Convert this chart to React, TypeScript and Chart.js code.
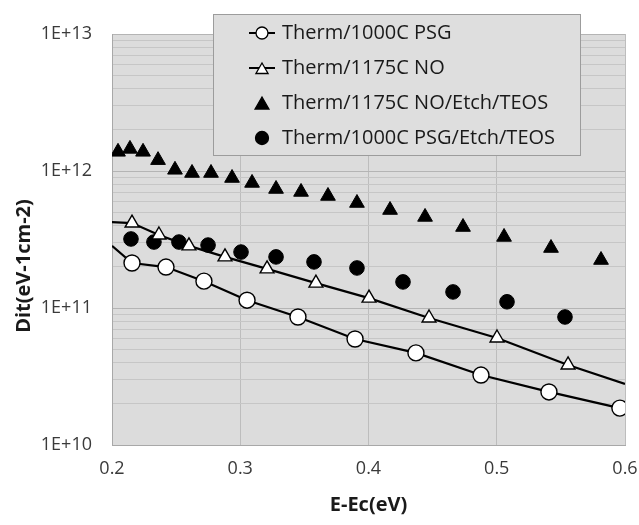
import React, { useEffect, useRef } from 'react';
import { Chart, registerables } from 'chart.js';

Chart.register(...registerables);

// Therm/1000C PSG (open circles + line); first point is the line start at the axis
const psgX = [0.2, 0.2156, 0.2421, 0.2717, 0.3053, 0.345, 0.3895, 0.437, 0.4877, 0.5407, 0.596];
const psgY = [2.84e11, 2.13e11, 1.99e11, 1.57e11, 1.14e11, 8.6e10, 5.94e10, 4.7e10, 3.24e10, 2.44e10, 1.86e10];
const psgMarker = [false, true, true, true, true, true, true, true, true, true, true];

// Therm/1175C NO (open triangles + line); first and last points are line ends at the axes
const noX = [0.2, 0.2156, 0.2366, 0.26, 0.2881, 0.3209, 0.359, 0.4004, 0.4472, 0.5002, 0.5556, 0.6];
const noY = [4.24e11, 4.17e11, 3.41e11, 2.84e11, 2.36e11, 1.93e11, 1.52e11, 1.18e11, 8.45e10, 6.04e10, 3.84e10, 2.79e10];
const noMarker = [false, true, true, true, true, true, true, true, true, true, true, false];

// Therm/1175C NO/Etch/TEOS (filled triangles)
const noEtchX = [0.2047, 0.214, 0.2242, 0.2359, 0.2491, 0.2624, 0.2772, 0.2936, 0.3092, 0.3279, 0.3474, 0.3684, 0.391, 0.4168, 0.4441, 0.4737, 0.5057, 0.5423, 0.5813];
const noEtchY = [1.38e12, 1.45e12, 1.38e12, 1.2e12, 1.02e12, 9.67e11, 9.67e11, 8.89e11, 8.18e11, 7.39e11, 7.03e11, 6.57e11, 5.84e11, 5.19e11, 4.62e11, 3.9e11, 3.3e11, 2.74e11, 2.24e11];

// Therm/1000C PSG/Etch/TEOS (filled circles)
const psgEtchX = [0.2148, 0.2327, 0.2522, 0.2749, 0.3006, 0.3279, 0.3575, 0.391, 0.4269, 0.4659, 0.508, 0.5532];
const psgEtchY = [3.19e11, 3.03e11, 3.03e11, 2.88e11, 2.56e11, 2.36e11, 2.17e11, 1.96e11, 1.55e11, 1.31e11, 1.11e11, 8.6e10];

const seriesNames = ['Therm/1000C PSG', 'Therm/1175C NO', 'Therm/1175C NO/Etch/TEOS', 'Therm/1000C PSG/Etch/TEOS'];

const xTickValues = [0.2, 0.3, 0.4, 0.5, 0.6];
const yDecades = [10, 11, 12, 13];

const xTitle = 'E-Ec(eV)';
const yTitle = 'Dit(eV-1cm-2)';

const FONT = "'Open Sans', 'DejaVu Sans', sans-serif";

function pts(xs: number[], ys: number[]) {
  return xs.map((x, i) => ({ x, y: ys[i] }));
}

function drawMarker(ctx: CanvasRenderingContext2D, style: string, x: number, y: number, r: number, fill: string) {
  ctx.save();
  ctx.beginPath();
  if (style === 'circle') {
    ctx.arc(x, y, r, 0, Math.PI * 2);
  } else {
    ctx.moveTo(x, y - r);
    ctx.lineTo(x + r * Math.sin(Math.PI * 2 / 3), y - r * Math.cos(Math.PI * 2 / 3));
    ctx.lineTo(x + r * Math.sin(Math.PI * 4 / 3), y - r * Math.cos(Math.PI * 4 / 3));
    ctx.closePath();
  }
  ctx.fillStyle = fill;
  ctx.fill();
  ctx.lineWidth = 1.3;
  ctx.strokeStyle = '#000';
  ctx.stroke();
  ctx.restore();
}

const bgPlugin = {
  id: 'plotBg',
  beforeDraw(chart: any) {
    const { ctx, chartArea } = chart;
    ctx.save();
    ctx.fillStyle = '#dcdcdc';
    ctx.fillRect(chartArea.left, chartArea.top, chartArea.right - chartArea.left, chartArea.bottom - chartArea.top);
    ctx.restore();
  },
};

const overlayPlugin = {
  id: 'overlay',
  afterDraw(chart: any) {
    const { ctx, chartArea } = chart;
    // y-axis title
    ctx.save();
    ctx.translate(24, 266);
    ctx.rotate(-Math.PI / 2);
    ctx.font = `bold 20px ${FONT}`;
    ctx.fillStyle = '#1a1a1a';
    ctx.textAlign = 'center';
    ctx.textBaseline = 'middle';
    ctx.fillText(yTitle, 0, 0);
    ctx.restore();

    // legend box
    const bx = chartArea.left + 101;
    const by = 14;
    const bw = 367;
    const bh = 141;
    ctx.save();
    ctx.fillStyle = '#dedede';
    ctx.fillRect(bx, by, bw, bh);
    ctx.strokeStyle = '#9c9c9c';
    ctx.lineWidth = 1;
    ctx.strokeRect(bx + 0.5, by + 0.5, bw, bh);
    const styles = [
      { s: 'circle', fill: '#fff', line: true, r: 6 },
      { s: 'triangle', fill: '#fff', line: true, r: 7 },
      { s: 'triangle', fill: '#000', line: false, r: 8 },
      { s: 'circle', fill: '#000', line: false, r: 6.5 },
    ];
    const mx = bx + 49;
    seriesNames.forEach((name, i) => {
      const y = by + 19 + i * 35;
      const st = styles[i];
      if (st.line) {
        ctx.beginPath();
        ctx.moveTo(mx - 13, y);
        ctx.lineTo(mx + 13, y);
        ctx.lineWidth = 2;
        ctx.strokeStyle = '#000';
        ctx.stroke();
      }
      drawMarker(ctx, st.s, mx, st.s === 'triangle' ? y + 2 : y, st.r, st.fill);
      ctx.font = `20px ${FONT}`;
      ctx.fillStyle = '#1a1a1a';
      ctx.textAlign = 'left';
      ctx.textBaseline = 'middle';
      ctx.fillText(name, mx + 20, y);
    });
    ctx.restore();
  },
};

export default function App() {
  const ref = useRef<HTMLCanvasElement | null>(null);

  useEffect(() => {
    if (!ref.current) return;
    const yTicks: number[] = [];
    for (let d = yDecades[0]; d < yDecades[yDecades.length - 1]; d++) {
      for (let m = 1; m <= 9; m++) yTicks.push(m * Math.pow(10, d));
    }
    yTicks.push(Math.pow(10, yDecades[yDecades.length - 1]));

    const isPow10 = (v: number) => {
      const e = Math.log10(v);
      return Math.abs(e - Math.round(e)) < 1e-9;
    };

    const chart = new Chart(ref.current, {
      type: 'scatter',
      data: {
        datasets: [
          {
            label: seriesNames[0],
            data: pts(psgX, psgY),
            showLine: true,
            borderColor: '#000',
            borderWidth: 2.2,
            pointStyle: 'circle',
            pointRadius: psgMarker.map((m) => (m ? 8 : 0)),
            pointBackgroundColor: '#fff',
            pointBorderColor: '#000',
            pointBorderWidth: 1.4,
            tension: 0,
          },
          {
            label: seriesNames[1],
            data: pts(noX, noY),
            showLine: true,
            borderColor: '#000',
            borderWidth: 2.2,
            pointStyle: 'triangle',
            pointRadius: noMarker.map((m) => (m ? 8 : 0)),
            pointBackgroundColor: '#fff',
            pointBorderColor: '#000',
            pointBorderWidth: 1.4,
            tension: 0,
          },
          {
            label: seriesNames[2],
            data: pts(noEtchX, noEtchY),
            showLine: false,
            pointStyle: 'triangle',
            pointRadius: 8.5,
            pointBackgroundColor: '#000',
            pointBorderColor: '#000',
            pointBorderWidth: 1,
          },
          {
            label: seriesNames[3],
            data: pts(psgEtchX, psgEtchY),
            showLine: false,
            pointStyle: 'circle',
            pointRadius: 7.3,
            pointBackgroundColor: '#000',
            pointBorderColor: '#000',
            pointBorderWidth: 1,
          },
        ],
      },
      options: {
        animation: false,
        responsive: false,
        events: [],
        layout: { padding: { top: 34, right: 14, left: 0, bottom: 0 } },
        plugins: {
          legend: { display: false },
          tooltip: { enabled: false },
          title: { display: false },
        },
        scales: {
          x: {
            type: 'linear',
            min: 0.2,
            max: 0.6,
            afterBuildTicks: (scale: any) => {
              scale.ticks = xTickValues.map((v) => ({ value: v }));
            },
            afterFit: (scale: any) => {
              scale.height = 80;
              scale.paddingLeft = 0;
              scale.paddingRight = 0;
            },
            ticks: {
              padding: 13,
              color: '#3a3a3a',
              font: { family: FONT, size: 18 },
              callback: (v: any) => Number(v).toFixed(1),
              autoSkip: false,
              maxRotation: 0,
            },
            grid: { color: '#bdbdbd', lineWidth: 1, drawTicks: false },
            border: { color: '#a8a8a8', width: 1 },
            title: {
              display: true,
              text: xTitle,
              color: '#1a1a1a',
              font: { family: FONT, size: 20, weight: 'bold' },
              padding: { top: 0, bottom: 8 },
            },
          },
          y: {
            type: 'logarithmic',
            min: 1e10,
            max: 1e13,
            afterBuildTicks: (scale: any) => {
              scale.ticks = yTicks.map((v) => ({ value: v, major: isPow10(v) }));
            },
            afterFit: (scale: any) => {
              scale.width = 112;
              scale.paddingTop = 0;
              scale.paddingBottom = 0;
            },
            ticks: {
              padding: 20,
              color: '#3a3a3a',
              font: { family: FONT, size: 18 },
              autoSkip: false,
              callback: (v: any) => (isPow10(Number(v)) ? `1E+${Math.round(Math.log10(Number(v)))}` : ''),
            },
            grid: {
              drawTicks: false,
              lineWidth: 1,
              color: (c: any) => (c.tick && isPow10(c.tick.value) ? '#b4b4b4' : '#c6c6c6'),
            },
            border: { color: '#a8a8a8', width: 1 },
            title: { display: false },
          },
        },
      },
      plugins: [bgPlugin, overlayPlugin],
    } as any);

    return () => chart.destroy();
  }, []);

  return (
    <div style={{ position: 'absolute', left: 0, top: 0, width: 639, height: 525, background: '#fff' }}>
      <canvas ref={ref} width={639} height={525} style={{ display: 'block' }} />
    </div>
  );
}
